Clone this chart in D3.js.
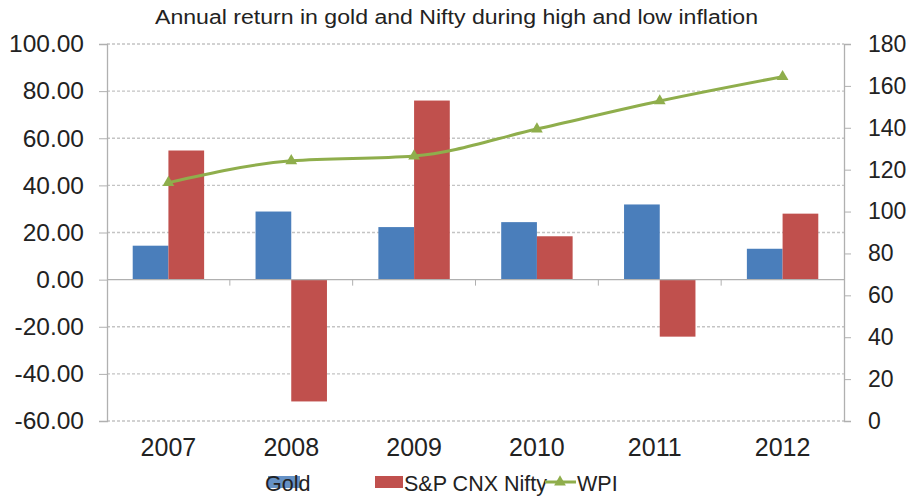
<!DOCTYPE html>
<html>
<head>
<meta charset="utf-8">
<script src="https://cdn.jsdelivr.net/npm/d3@7"></script>
<style>
  body { margin: 0; background: #fff; }
  svg { font-family: "Liberation Sans", Arial, sans-serif; }
</style>
</head>
<body>
<svg id="chart"></svg>
<script>
const w = 914;
const h = 496;

// data
const years = ["2007", "2008", "2009", "2010", "2011", "2012"];
const gold = [14.4, 28.9, 22.3, 24.4, 31.9, 13.1];
const nifty = [54.8, -51.7, 76.0, 18.4, -24.2, 28.0];
const wpi = [113.8, 124.2, 126.5, 139.4, 152.8, 164.4];
const leftTicks = [100, 80, 60, 40, 20, 0, -20, -40, -60];
const rightTicks = [180, 160, 140, 120, 100, 80, 60, 40, 20, 0];
const seriesNames = ["Gold", "S&P CNX Nifty", "WPI"];

const blue = "#4a7ebb";
const red = "#c0504d";
const green = "#8fae4c";

const svg = d3.select("#chart")
  .attr("width", w)
  .attr("height", h);

const plotLeft = 107, plotRight = 844, plotTop = 44, plotBottom = 421;

const x = d3.scaleBand()
  .domain(years)
  .range([plotLeft, plotRight]);

const x1 = d3.scaleBand()
  .domain(["gold", "nifty"])
  .range([0, x.bandwidth()])
  .paddingOuter(0.72)
  .paddingInner(0);

const yL = d3.scaleLinear().domain([-60, 100]).range([plotBottom, plotTop]);
const yR = d3.scaleLinear().domain([0, 180]).range([plotBottom, plotTop]);

// title
svg.append("text")
  .attr("x", 155)
  .attr("y", 24)
  .attr("font-size", 20)
  .attr("textLength", 603)
  .attr("lengthAdjust", "spacingAndGlyphs")
  .attr("fill", "#222")
  .text("Annual return in gold and Nifty during high and low inflation");

// gridlines
svg.append("g")
  .selectAll("line")
  .data(leftTicks.filter(d => d !== 0))
  .enter()
  .append("line")
  .attr("x1", plotLeft)
  .attr("x2", plotRight)
  .attr("y1", d => yL(d))
  .attr("y2", d => yL(d))
  .attr("stroke", "#c4c4c4")
  .attr("stroke-width", 1.3)
  .attr("stroke-dasharray", "3,2");

// left axis
const fmt = d => d3.format(".2f")(d).replace("−", "-");
const leftAxis = svg.append("g")
  .attr("transform", `translate(${plotLeft},0)`)
  .call(d3.axisLeft(yL).tickValues(leftTicks).tickSize(8).tickPadding(15)
    .tickFormat(fmt));
leftAxis.select(".domain").attr("stroke", "#b0b0b0").attr("stroke-width", 1.3);
leftAxis.selectAll(".tick line").attr("stroke", "#b0b0b0");
leftAxis.selectAll("text")
  .attr("font-size", 24.5)
  .attr("fill", "#222")
  .attr("font-family", "Liberation Sans, Arial, sans-serif");

// right axis
const rightAxis = svg.append("g")
  .attr("transform", `translate(${plotRight},0)`)
  .call(d3.axisRight(yR).tickValues(rightTicks).tickSize(7).tickPadding(17));
rightAxis.select(".domain").attr("stroke", "#b0b0b0").attr("stroke-width", 1.3);
rightAxis.selectAll(".tick line").attr("stroke", "#b0b0b0");
rightAxis.selectAll("text")
  .attr("font-size", 23)
  .attr("fill", "#222")
  .attr("font-family", "Liberation Sans, Arial, sans-serif");

// bars
const groups = svg.append("g")
  .selectAll("g")
  .data(years)
  .enter()
  .append("g")
  .attr("transform", d => `translate(${x(d)},0)`);

groups.append("rect")
  .attr("x", x1("gold"))
  .attr("width", x1.bandwidth())
  .attr("y", (d, i) => yL(Math.max(0, gold[i])))
  .attr("height", (d, i) => Math.abs(yL(gold[i]) - yL(0)))
  .attr("fill", blue);

groups.append("rect")
  .attr("x", x1("nifty"))
  .attr("width", x1.bandwidth())
  .attr("y", (d, i) => yL(Math.max(0, nifty[i])))
  .attr("height", (d, i) => Math.abs(yL(nifty[i]) - yL(0)))
  .attr("fill", red);

// zero axis line with category ticks
svg.append("line")
  .attr("x1", plotLeft)
  .attr("x2", plotRight)
  .attr("y1", yL(0))
  .attr("y2", yL(0))
  .attr("stroke", "#b0b0b0")
  .attr("stroke-width", 1.3);

svg.append("g")
  .selectAll("line")
  .data(years.slice(1))
  .enter()
  .append("line")
  .attr("x1", d => x(d))
  .attr("x2", d => x(d))
  .attr("y1", yL(0))
  .attr("y2", yL(0) + 6)
  .attr("stroke", "#b0b0b0");

// category labels at the bottom
svg.append("g")
  .selectAll("text")
  .data(years)
  .enter()
  .append("text")
  .attr("x", d => x(d) + x.bandwidth() / 2 - (d === "2011" ? 5 : 0))
  .attr("y", 456)
  .attr("text-anchor", "middle")
  .attr("font-size", 25)
  .attr("fill", "#222")
  .text(d => d);

// WPI line
const line = d3.line()
  .x((d, i) => x(years[i]) + x.bandwidth() / 2)
  .y(d => yR(d))
  .curve(d3.curveMonotoneX);

svg.append("path")
  .datum(wpi)
  .attr("d", line)
  .attr("fill", "none")
  .attr("stroke", green)
  .attr("stroke-width", 3);

const tri = d3.symbol().type(d3.symbolTriangle).size(60);
svg.append("g")
  .selectAll("path")
  .data(wpi)
  .enter()
  .append("path")
  .attr("d", tri)
  .attr("transform", (d, i) => `translate(${x(years[i]) + x.bandwidth() / 2},${yR(d)})`)
  .attr("fill", green);

// legend
const lg = svg.append("g");
lg.append("rect")
  .attr("x", 268).attr("y", 476).attr("width", 32).attr("height", 12)
  .attr("fill", blue).attr("opacity", 0.85);
lg.append("text")
  .attr("x", 265).attr("y", 491)
  .attr("font-size", 21.5).attr("fill", "#222")
  .text(seriesNames[0]);

lg.append("rect")
  .attr("x", 375).attr("y", 476).attr("width", 28).attr("height", 12)
  .attr("fill", red);
lg.append("text")
  .attr("x", 404).attr("y", 491)
  .attr("font-size", 21.5).attr("fill", "#222")
  .text(seriesNames[1]);

lg.append("line")
  .attr("x1", 545).attr("x2", 576).attr("y1", 482).attr("y2", 482)
  .attr("stroke", green).attr("stroke-width", 3);
lg.append("path")
  .attr("d", tri)
  .attr("transform", "translate(560,482)")
  .attr("fill", green);
lg.append("text")
  .attr("x", 577).attr("y", 491)
  .attr("font-size", 21.5).attr("fill", "#222")
  .text(seriesNames[2]);
</script>
</body>
</html>
